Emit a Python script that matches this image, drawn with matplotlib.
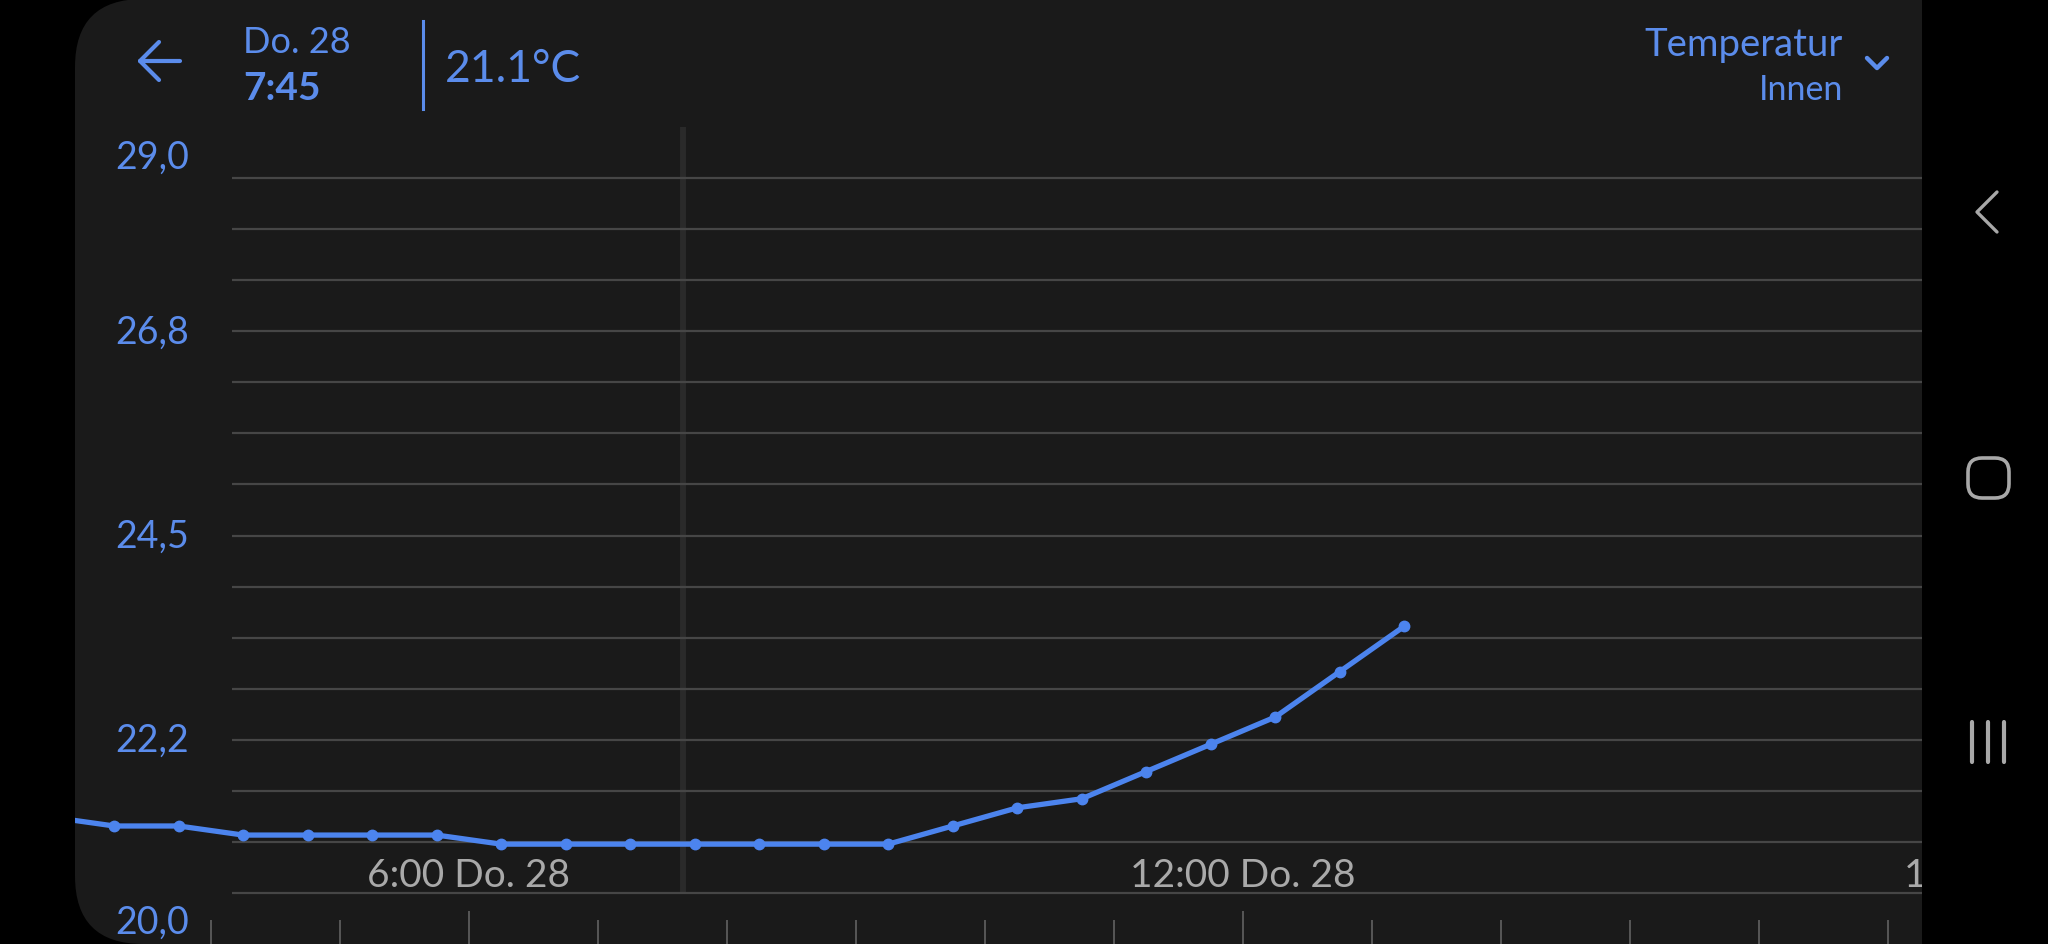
import matplotlib
matplotlib.use('Agg')
import matplotlib.pyplot as plt
from matplotlib.patches import FancyBboxPatch, Rectangle

# data (time of day, indoor temperature in °C)
times = ['2:45', '3:15', '3:45', '4:15', '4:45', '5:15', '5:45', '6:15', '6:45', '7:15', '7:45',
         '8:15', '8:45', '9:15', '9:45', '10:15', '10:45', '11:15', '11:45', '12:15', '12:45', '13:15']
temps = [21.4, 21.3, 21.3, 21.2, 21.2, 21.2, 21.2, 21.1, 21.1, 21.1, 21.1,
         21.1, 21.1, 21.1, 21.3, 21.5, 21.6, 21.9, 22.2, 22.5, 23.0, 23.5]
hour_ticks = list(range(4, 18))
label_hours = [6, 12, 18]
day_label = 'Do. 28'
y_min, y_max = 20.0, 29.0

hours = [int(t.split(':')[0]) + int(t.split(':')[1]) / 60 for t in times]

BLUE = '#4c84ee'
TXT_BLUE = '#5b8ceb'
PANEL = '#1a1a1a'
GRID = '#464646'
W, H = 2048, 945

plt.rcParams['font.family'] = ['Lato', 'DejaVu Sans']

fig = plt.figure(figsize=(W / 100, H / 100), dpi=100, facecolor='black')

# background layer in pixel coordinates
bg = fig.add_axes([0, 0, 1, 1], zorder=0)
bg.set_xlim(0, W)
bg.set_ylim(H, 0)
bg.axis('off')
bg.add_patch(FancyBboxPatch((75, 0), 2000, H, boxstyle='round,pad=0,rounding_size=68',
                            fc=PANEL, ec='none'))
bg.add_patch(Rectangle((1922, 0), W - 1922, H, fc='black', ec='none'))

# header
bg.plot([140, 180], [62, 62], color=TXT_BLUE, lw=3, solid_capstyle='round')
bg.plot([159, 140, 159], [43, 62, 81], color=TXT_BLUE, lw=3, solid_capstyle='round',
        solid_joinstyle='round')
bg.text(243, 53, day_label, color=TXT_BLUE, fontsize=26, va='baseline', ha='left')
bg.text(243, 100, '7:45', color=TXT_BLUE, fontsize=28, fontweight='bold', va='baseline', ha='left')
bg.plot([423, 423], [22, 110], color=TXT_BLUE, lw=2.2)
bg.text(445, 82, '21.1°C', color=TXT_BLUE, fontsize=32, va='baseline', ha='left')
bg.text(1843, 56, 'Temperatur', color=TXT_BLUE, fontsize=27.5, va='baseline', ha='right')
bg.text(1843, 100, 'Innen', color=TXT_BLUE, fontsize=24.5, va='baseline', ha='right')
bg.plot([1867, 1877, 1887], [59, 69, 59], color=TXT_BLUE, lw=3.2, solid_capstyle='round',
        solid_joinstyle='round')

# navigation bar icons
NAV = '#a8a8a8'
bg.plot([1997, 1977, 1997], [193, 213, 233], color=NAV, lw=2.4, solid_capstyle='round')
bg.add_patch(FancyBboxPatch((1968, 459), 41, 40, boxstyle='round,pad=0,rounding_size=14',
                            fc='none', ec=NAV, lw=2.6))
for xn in (1972, 1988, 2004):
    bg.plot([xn, xn], [723, 763], color=NAV, lw=3, solid_capstyle='round')

# chart
ax = fig.add_axes([75 / W, 0, 1847 / W, 817 / H], zorder=2)
ax.set_facecolor('none')
for s in ax.spines.values():
    s.set_visible(False)

grid_levels = [y_min + k * (y_max - y_min) / 16 for k in range(1, 16)]
ax.hlines(grid_levels, 0.085, 1, transform=ax.get_yaxis_transform(), color=GRID, lw=1.6, zorder=1)
ax.axvline(7.66, ymin=0.065, ymax=0.998, color='#2a2a2a', lw=4.3, zorder=0)

ax.plot(hours, temps, color=BLUE, lw=3.8, marker='o', markersize=7.5, zorder=3,
        solid_joinstyle='round')

# y labels every 4th grid level, kept inside the chart area
for k in range(0, 17, 4):
    v = y_min + k * (y_max - y_min) / 16
    pos = min(max(v, 20.25), 28.67)
    ax.text(0.0217, pos, f'{v:.1f}'.replace('.', ','), transform=ax.get_yaxis_transform(),
            color=TXT_BLUE, fontsize=27, va='center', ha='left')

# hour ticks
ax.set_xticks(label_hours)
ax.set_xticks(hour_ticks, minor=True)
ax.set_yticks([])
ax.tick_params(axis='x', which='both', direction='in', labelbottom=False, color='#575757', width=1.4)
ax.tick_params(axis='x', which='major', length=24)
ax.tick_params(axis='x', which='minor', length=17)
ax.set_xlim(2.946, 17.264)
ax.set_ylim(y_min, y_max)

for h in label_hours:
    ax.text(h, 0.071, f'{h}:00 {day_label}', transform=ax.get_xaxis_transform(), color='#a9a9a9',
            fontsize=28, va='baseline', ha='center', clip_on=True)

fig.savefig('out.png', dpi=100, facecolor='black')
